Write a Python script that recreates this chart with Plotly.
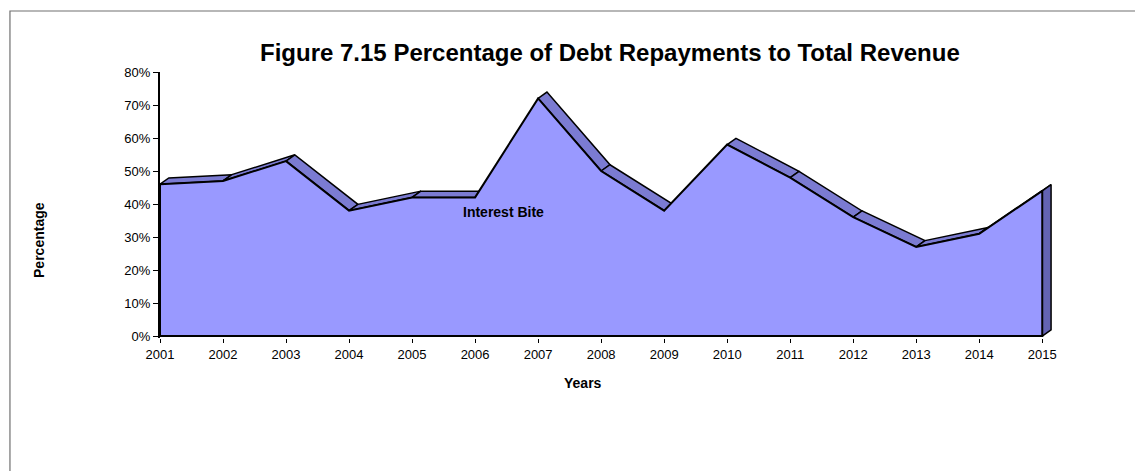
import plotly.graph_objects as go

# ---- data -------------------------------------------------------------
years = [str(y) for y in range(2001, 2016)]
interest_bite = [46, 47, 53, 38, 42, 42, 72, 50, 38, 58, 48, 36, 27, 31, 44]  # % of total revenue
y_ticks = [0, 10, 20, 30, 40, 50, 60, 70, 80]
series_name = "Interest Bite"

# ---- geometry ---------------------------------------------------------
W, H = 1135, 471
X_FIRST_PX, X_LAST_PX = 160, 1042   # pixel x of first / last category
Y_ZERO_PX, Y_TOP_PX = 336, 72       # pixel y of 0% / 80%
N = len(years) - 1
X_MAX = N + 0.25
Y_MIN, Y_MAX = -0.6, 80

ppx = (X_LAST_PX - X_FIRST_PX) / N
ppy = (Y_ZERO_PX - Y_TOP_PX) / (Y_MAX - 0)
m_left = X_FIRST_PX
m_top = Y_TOP_PX
plot_w = X_MAX * ppx
plot_h = (Y_MAX - Y_MIN) * ppy
m_right = W - m_left - plot_w
m_bottom = H - m_top - plot_h


def px_x(p):
    return (p - m_left) / plot_w


def px_y(p):
    return (H - m_bottom - p) / plot_h


# 3-D depth of the area ribbon, in category units / percentage points
DX, DY = 0.14, 1.9

FRONT = "#9999FF"
TOP = "#7B7BD2"
SIDE = "#6363B3"
FONT = "Liberation Sans, Arial, sans-serif"

xs = list(range(len(years)))
fig = go.Figure()

# top faces of each segment (only those facing the viewer)
for i in range(N):
    x1, x2 = xs[i], xs[i + 1]
    y1, y2 = interest_bite[i], interest_bite[i + 1]
    if (y2 - y1) >= DY / DX:
        continue
    fig.add_trace(go.Scatter(
        x=[x1, x2, x2 + DX, x1 + DX, x1],
        y=[y1, y2, y2 + DY, y1 + DY, y1],
        mode="lines", fill="toself", fillcolor=TOP,
        line=dict(color="black", width=1.5),
        hoverinfo="skip", showlegend=False,
    ))

# right-hand end face
xl, yl = xs[-1], interest_bite[-1]
fig.add_trace(go.Scatter(
    x=[xl, xl + DX, xl + DX, xl, xl],
    y=[0, DY, yl + DY, yl, 0],
    mode="lines", fill="toself", fillcolor=SIDE,
    line=dict(color="black", width=1.5),
    hoverinfo="skip", showlegend=False,
))

# front face of the area
fig.add_trace(go.Scatter(
    x=[xs[0]] + xs + [xs[-1], xs[0]],
    y=[0] + interest_bite + [0, 0],
    mode="lines", fill="toself", fillcolor=FRONT,
    line=dict(color="black", width=2),
    name=series_name, hoverinfo="skip", showlegend=False,
))

annotations = [
    dict(text="<b>Figure 7.15 Percentage of Debt Repayments to Total Revenue</b>",
         x=px_x(610), y=px_y(53), xref="paper", yref="paper",
         xanchor="center", yanchor="middle", showarrow=False,
         font=dict(family=FONT, size=24, color="black")),
    dict(text="<b>Percentage</b>", textangle=-90,
         x=px_x(39), y=px_y(240), xref="paper", yref="paper",
         xanchor="center", yanchor="middle", showarrow=False,
         font=dict(family=FONT, size=14, color="black")),
    dict(text="<b>Years</b>",
         x=px_x(583), y=px_y(383), xref="paper", yref="paper",
         xanchor="center", yanchor="middle", showarrow=False,
         font=dict(family=FONT, size=14, color="black")),
    dict(text=f"<b>{series_name}</b>",
         x=px_x(503), y=px_y(212), xref="paper", yref="paper",
         xanchor="center", yanchor="middle", showarrow=False,
         font=dict(family=FONT, size=14, color="black")),
]

fig.update_layout(
    width=W, height=H,
    margin=dict(l=m_left, r=m_right, t=m_top, b=m_bottom, pad=0),
    paper_bgcolor="white", plot_bgcolor="white",
    font=dict(family=FONT, size=13, color="black"),
    annotations=annotations,
    shapes=[dict(type="rect", xref="paper", yref="paper",
                 x0=px_x(10), y0=px_y(H + 10), x1=px_x(W + 10), y1=px_y(11),
                 line=dict(color="#707070", width=1.2), fillcolor="rgba(0,0,0,0)",
                 layer="below")],
    xaxis=dict(range=[0, X_MAX], tickmode="array", tickvals=xs, ticktext=years,
               showline=False, showgrid=False, zeroline=False,
               ticks="outside", ticklen=4, tickcolor="black", tickwidth=1,
               tickfont=dict(family=FONT, size=13, color="black"), fixedrange=True),
    yaxis=dict(range=[Y_MIN, Y_MAX], tickmode="array", tickvals=y_ticks,
               ticktext=[f"{v}%" for v in y_ticks],
               showline=True, linecolor="black", linewidth=2,
               showgrid=False, zeroline=False,
               ticks="outside", ticklen=5, tickcolor="black", tickwidth=1,
               tickfont=dict(family=FONT, size=13, color="black"), fixedrange=True),
)

fig.write_html("out.html", config={"displayModeBar": False})
